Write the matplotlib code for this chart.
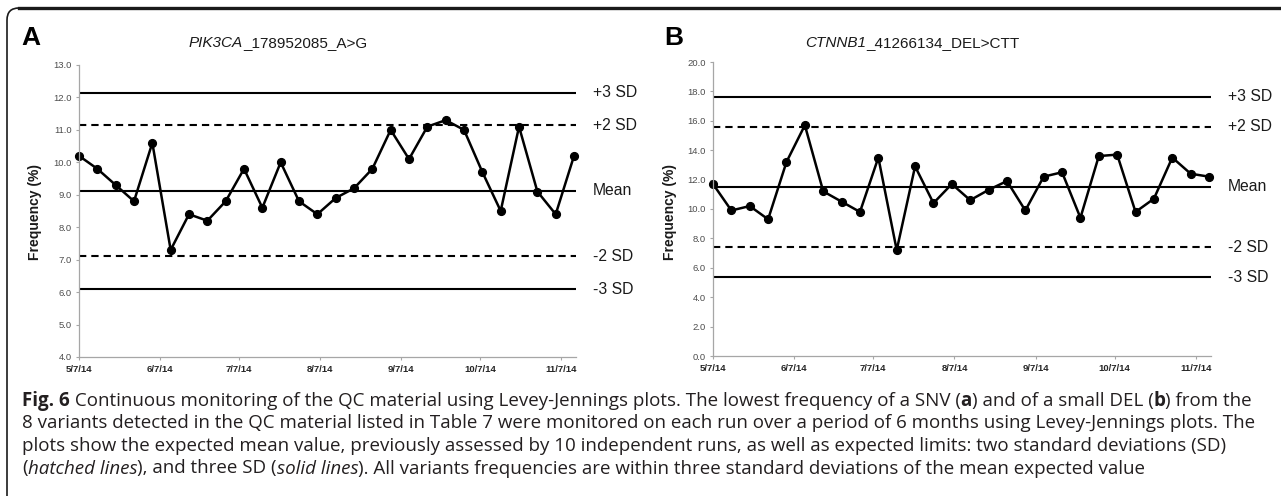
import datetime as dt
import matplotlib
matplotlib.use('Agg')
import matplotlib.pyplot as plt
import matplotlib.dates as mdates
from matplotlib.patches import FancyBboxPatch
from matplotlib.lines import Line2D
from matplotlib.transforms import IdentityTransform, blended_transform_factory

# weekly QC runs
run_dates = ['2014-05-07', '2014-05-14', '2014-05-21', '2014-05-28', '2014-06-04', '2014-06-11',
             '2014-06-18', '2014-06-25', '2014-07-02', '2014-07-09', '2014-07-16', '2014-07-23',
             '2014-07-30', '2014-08-06', '2014-08-13', '2014-08-20', '2014-08-27', '2014-09-03',
             '2014-09-10', '2014-09-17', '2014-09-24', '2014-10-01', '2014-10-08', '2014-10-15',
             '2014-10-22', '2014-10-29', '2014-11-05', '2014-11-12']
pik3ca_freq = [10.2, 9.8, 9.3, 8.8, 10.6, 7.3, 8.4, 8.2, 8.8, 9.8, 8.6, 10.0, 8.8, 8.4,
               8.9, 9.2, 9.8, 11.0, 10.1, 11.1, 11.3, 11.0, 9.7, 8.5, 11.1, 9.1, 8.4, 10.2]
ctnnb1_freq = [11.7, 9.9, 10.2, 9.3, 13.2, 15.7, 11.2, 10.5, 9.8, 13.5, 7.2, 12.9, 10.4, 11.7,
               10.6, 11.3, 11.9, 9.9, 12.2, 12.5, 9.4, 13.6, 13.7, 9.8, 10.7, 13.5, 12.4, 12.2]

sd_labels = ['+3 SD', '+2 SD', 'Mean', '-2 SD', '-3 SD']
pik3ca_limits = [12.15, 11.14, 9.12, 7.10, 6.09]
ctnnb1_limits = [17.65, 15.60, 11.50, 7.40, 5.35]

pik3ca_ticks = [4, 5, 6, 7, 8, 9, 10, 11, 12, 13]
ctnnb1_ticks = [0, 2, 4, 6, 8, 10, 12, 14, 16, 18, 20]

caption = [
    [('Fig. 6', 'b'), (' Continuous monitoring of the QC material using Levey-Jennings plots. The lowest frequency of a SNV (', 'r'),
     ('a', 'b'), (') and of a small DEL (', 'r'), ('b', 'b'), (') from the', 'r')],
    [('8 variants detected in the QC material listed in Table 7 were monitored on each run over a period of 6 months using Levey-Jennings plots. The', 'r')],
    [('plots show the expected mean value, previously assessed by 10 independent runs, as well as expected limits: two standard deviations (SD)', 'r')],
    [('(', 'r'), ('hatched lines', 'i'), ('), and three SD (', 'r'), ('solid lines', 'i'),
     ('). All variants frequencies are within three standard deviations of the mean expected value', 'r')],
]

W, H = 1281, 496
fig = plt.figure(figsize=(W / 100, H / 100), dpi=100)
renderer = fig.canvas.get_renderer()

STYLE = {'r': {}, 'b': {'fontweight': 'bold'}, 'i': {'fontstyle': 'italic'}}


def seg_width(s, **kw):
    t = fig.text(0, 0, 'x' + s + 'x', **kw)
    w = t.get_window_extent(renderer).width
    t.remove()
    t = fig.text(0, 0, 'xx', **kw)
    w -= t.get_window_extent(renderer).width
    t.remove()
    return w


def rich(x, y, parts, size, family, color, ha='left'):
    kws = [dict(fontsize=size, family=family, color=color, **STYLE[st]) for _, st in parts]
    widths = [seg_width(s, **kw) for (s, _), kw in zip(parts, kws)]
    if ha == 'center':
        x -= sum(widths) / 2
    for (s, _), kw, w in zip(parts, kws, widths):
        fig.text(x / W, 1 - y / H, s, va='center', ha='left', **kw)
        x += w


dates = [dt.datetime.strptime(d, '%Y-%m-%d') for d in run_dates]
line_styles = ['-', (0, (3.5, 2.4)), '-', (0, (3.5, 2.4)), '-']


def panel(rect, freq, limits, ticks):
    ax = fig.add_axes(rect)
    for lim, ls in zip(limits, line_styles):
        ax.axhline(lim, color='black', lw=1.5, ls=ls)
    ax.plot(dates, freq, color='black', lw=1.8, marker='o', ms=5.6, clip_on=False)
    ax.set_xlim(dt.datetime(2014, 5, 7), dt.datetime(2014, 11, 12, 18))
    ax.set_ylim(ticks[0], ticks[-1])
    ax.set_yticks(ticks)
    ax.yaxis.set_major_formatter(plt.FormatStrFormatter('%.1f'))
    ax.xaxis.set_major_locator(mdates.MonthLocator(bymonthday=7))
    ax.xaxis.set_major_formatter(plt.FuncFormatter(
        lambda v, p: (lambda d: f'{d.month}/{d.day}/{d:%y}')(mdates.num2date(v))))
    for s in ['top', 'right']:
        ax.spines[s].set_visible(False)
    for s in ['left', 'bottom']:
        ax.spines[s].set_color('#a6a6a6')
        ax.spines[s].set_linewidth(0.9)
    ax.tick_params(axis='y', length=2.5, width=0.8, color='#a6a6a6', pad=2.5,
                   labelsize=6.8, labelcolor='#4d4d4d')
    ax.tick_params(axis='x', length=2.5, width=0.8, color='#a6a6a6', pad=3,
                   labelsize=6.8, labelcolor='#262626')
    for lab in ax.get_xticklabels():
        lab.set_fontweight('bold')
    tr = blended_transform_factory(ax.transAxes, ax.transData)
    for lab, lim in zip(sd_labels, limits):
        ax.text(1.034, lim, lab, transform=tr, va='center', ha='left',
                fontsize=11.3, color='#1a1a1a', family='Liberation Sans')
    return ax


plt.rcParams['font.family'] = 'Liberation Sans'

panel([79 / W, 139 / H, 497 / W, 292 / H], pik3ca_freq, pik3ca_limits, pik3ca_ticks)
panel([713 / W, 140 / H, 498 / W, 294 / H], ctnnb1_freq, ctnnb1_limits, ctnnb1_ticks)

for x in [35, 670]:
    fig.text(x / W, 1 - 212 / H, 'Frequency (%)', rotation=90, ha='center', va='center',
             fontsize=10, fontweight='bold', color='#1a1a1a')

fig.text(31 / W, 1 - 38 / H, 'A', fontsize=19, fontweight='bold', ha='center', va='center')
fig.text(674 / W, 1 - 38 / H, 'B', fontsize=19, fontweight='bold', ha='center', va='center')

rich(278, 43, [('PIK3CA', 'i'), ('_178952085_A>G', 'r')], 11, 'Liberation Sans', '#1a1a1a', ha='center')
rich(912, 43, [('CTNNB1', 'i'), ('_41266134_DEL>CTT', 'r')], 11, 'Liberation Sans', '#1a1a1a', ha='center')

for i, parts in enumerate(caption):
    rich(22, 401 + i * 22.5, parts, 13.5, 'Open Sans', '#231f20')

# frame round the figure
box = FancyBboxPatch((7, -30), 1400, H - 8 + 30, boxstyle='round,pad=0,rounding_size=12',
                     transform=IdentityTransform(), fill=False, lw=1.2, ec='#1a1a1a')
fig.patches.append(box)
fig.lines.append(Line2D([19, W], [H - 8, H - 8], transform=IdentityTransform(), lw=2.4, color='#1a1a1a'))

fig.savefig('out.png', dpi=100)
